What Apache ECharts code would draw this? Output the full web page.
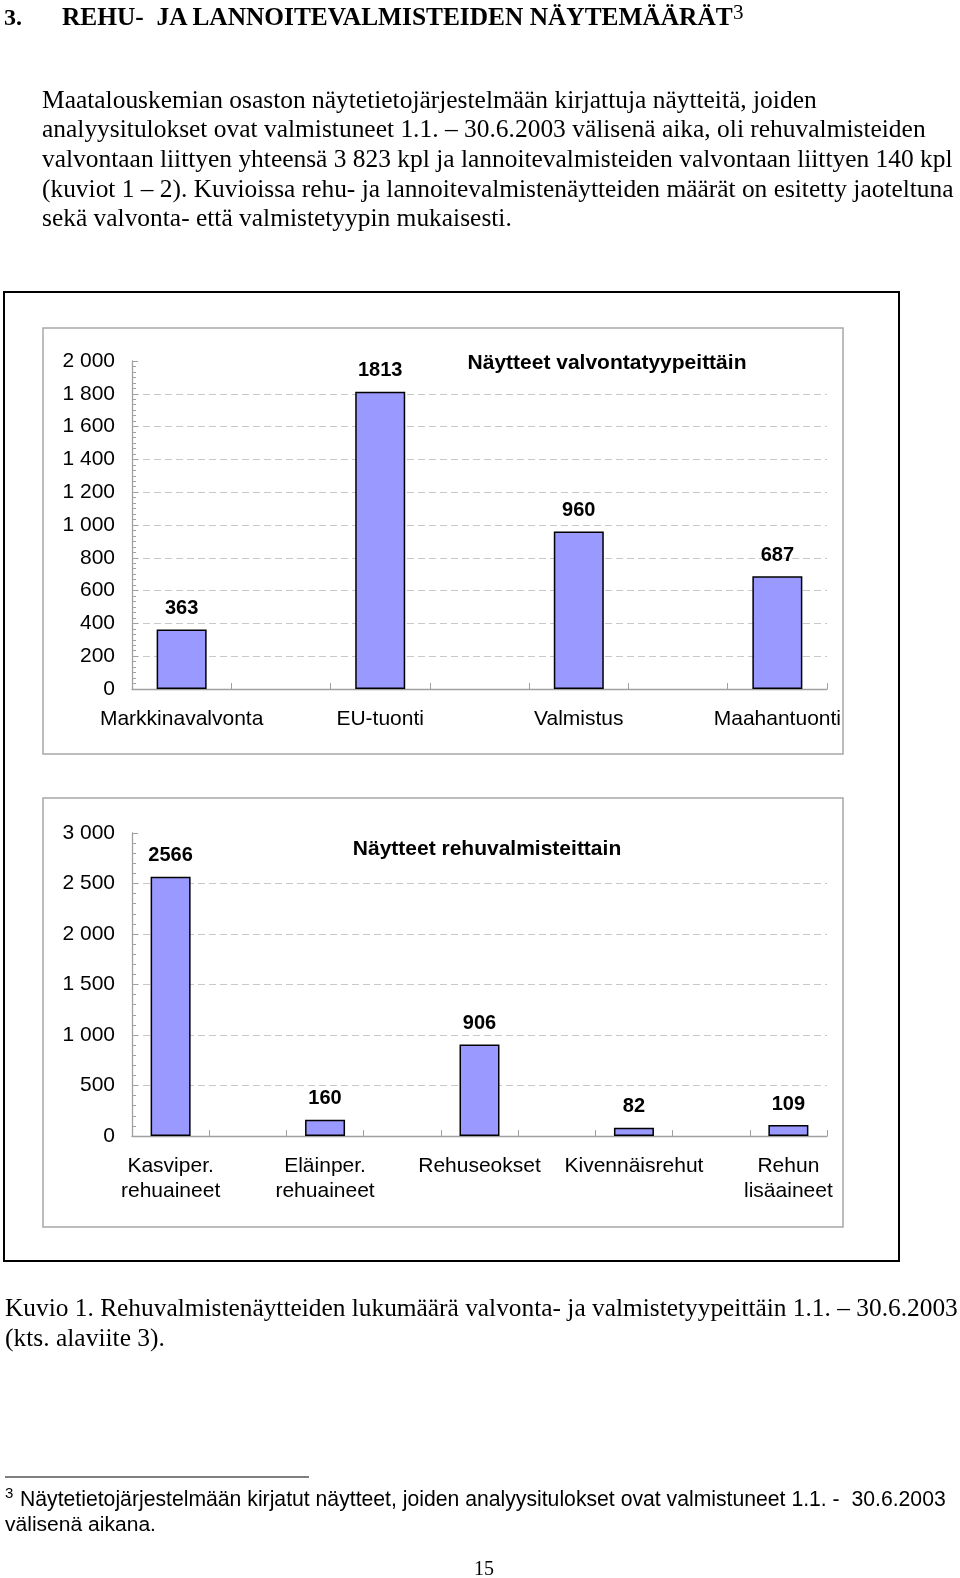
<!DOCTYPE html>
<html><head><meta charset="utf-8">
<script src="https://cdn.jsdelivr.net/npm/echarts@6/dist/echarts.min.js"></script>
<style>
html,body{margin:0;padding:0;background:#fff;}
#wrap{position:relative;width:960px;height:1578px;overflow:hidden;background:#fff;}
#chart{position:absolute;left:0;top:0;width:960px;height:1578px;}
#txt{position:absolute;left:0;top:0;width:960px;height:1578px;pointer-events:none;}
#txt text{white-space:pre;}
</style></head><body>
<div id="wrap"><div id="chart"></div>
<svg id="txt" width="960" height="1578" xmlns="http://www.w3.org/2000/svg"></svg></div>
<script>
// ---- data ----
const categories1 = ['Markkinavalvonta', 'EU-tuonti', 'Valmistus', 'Maahantuonti'];
const values1 = [363, 1813, 960, 687];
const yTicks1 = {min: 0, max: 2000, interval: 200};
const title1 = 'Näytteet valvontatyypeittäin';

const categories2 = ['Kasviper.\nrehuaineet', 'Eläinper.\nrehuaineet', 'Rehuseokset', 'Kivennäisrehut', 'Rehun\nlisäaineet'];
const values2 = [2566, 160, 906, 82, 109];
const yTicks2 = {min: 0, max: 3000, interval: 500};
const title2 = 'Näytteet rehuvalmisteittain';

// ---- text of the page ----
const ns = 'http://www.w3.org/2000/svg';
const svg = document.getElementById('txt');
function addText(s, x, y, o) {
  const el = document.createElementNS(ns, 'text');
  el.setAttribute('x', x); el.setAttribute('y', y);
  el.setAttribute('font-family', o.family);
  el.setAttribute('font-size', o.size);
  if (o.weight) el.setAttribute('font-weight', o.weight);
  if (o.anchor) el.setAttribute('text-anchor', o.anchor);
  el.setAttribute('fill', '#000');
  el.textContent = s;
  svg.appendChild(el);
  if (o.w) {
    const len = el.getComputedTextLength();
    el.setAttribute('font-size', (o.size * o.w / len).toFixed(2));
  }
  return el;
}
const SERIF = "'Liberation Serif','Times New Roman',serif";
const SANS = "'Liberation Sans',Arial,sans-serif";

addText('3.', 4, 25, {family: SERIF, size: 25, weight: 'bold', w: 18});
addText('REHU-  JA LANNOITEVALMISTEIDEN NÄYTEMÄÄRÄT', 62, 25, {family: SERIF, size: 25, weight: 'bold', w: 671});
addText('3', 733, 19, {family: SERIF, size: 21});

const para = [
  ['Maatalouskemian osaston näytetietojärjestelmään kirjattuja näytteitä, joiden', 775],
  ['analyysitulokset ovat valmistuneet 1.1. – 30.6.2003 välisenä aika, oli rehuvalmisteiden', 884],
  ['valvontaan liittyen yhteensä 3 823 kpl ja lannoitevalmisteiden valvontaan liittyen 140 kpl', 911],
  ['(kuviot 1 – 2). Kuvioissa rehu- ja lannoitevalmistenäytteiden määrät on esitetty jaoteltuna', 912],
  ['sekä valvonta- että valmistetyypin mukaisesti.', 470]
];
para.forEach((p, i) => addText(p[0], 42, 107.5 + 29.7 * i, {family: SERIF, size: 25, w: p[1]}));

addText('Kuvio 1. Rehuvalmistenäytteiden lukumäärä valvonta- ja valmistetyypeittäin 1.1. – 30.6.2003', 5, 1315.5, {family: SERIF, size: 25, w: 953});
addText('(kts. alaviite 3).', 5, 1345.5, {family: SERIF, size: 25, w: 160});

const rule = document.createElementNS(ns, 'line');
rule.setAttribute('x1', 5); rule.setAttribute('x2', 309);
rule.setAttribute('y1', 1477); rule.setAttribute('y2', 1477);
rule.setAttribute('stroke', '#000'); rule.setAttribute('stroke-width', 1.2);
svg.appendChild(rule);

addText('3', 5, 1498, {family: SANS, size: 15});
addText('Näytetietojärjestelmään kirjatut näytteet, joiden analyysitulokset ovat valmistuneet 1.1. -  30.6.2003', 20, 1506, {family: SANS, size: 20, w: 926});
addText('välisenä aikana.', 5, 1531, {family: SANS, size: 20, w: 151});
addText('15', 484, 1575, {family: SERIF, size: 20, anchor: 'middle'});

// ---- chart ----
function slots(cats, vals) {
  const c = [], v = [];
  cats.forEach((k, i) => {
    if (i > 0) { c.push(''); v.push(null); }
    c.push(k); v.push(vals[i]);
  });
  return {c, v};
}
const s1 = slots(categories1, values1);
const s2 = slots(categories2, values2);
const fmt = v => String(v).replace(/\B(?=(\d{3})+(?!\d))/g, ' ');
const AX = '#a0a0a0';

function xAxis(gi, data) {
  return {
    gridIndex: gi, type: 'category', data: data, boundaryGap: true,
    axisLine: {show: true, lineStyle: {color: AX, width: 1.3}},
    axisTick: {show: true, inside: true, length: 6, interval: 0, lineStyle: {color: AX}},
    axisLabel: {interval: 0, color: '#000', fontFamily: 'Liberation Sans', fontSize: 21, margin: 18, lineHeight: 25},
    splitLine: {show: false}
  };
}
function yAxis(gi, t, minor) {
  return {
    gridIndex: gi, type: 'value', min: t.min, max: t.max, interval: t.interval,
    axisLine: {show: true, lineStyle: {color: AX, width: 1.3}},
    axisTick: {show: true, inside: true, length: 6, lineStyle: {color: AX}},
    minorTick: {show: true, splitNumber: minor, length: 4, lineStyle: {color: AX}},
    splitLine: {show: true, showMaxLine: false, showMinLine: false, lineStyle: {type: [7, 4], color: '#c8c8c8', width: 1}},
    axisLabel: {color: '#000', fontFamily: 'Liberation Sans', fontSize: 21, margin: 17, formatter: fmt}
  };
}
function bar(gi, data, w) {
  return {
    type: 'bar', xAxisIndex: gi, yAxisIndex: gi, data: data, barWidth: w, silent: true,
    itemStyle: {color: '#9999ff', borderColor: '#000', borderWidth: 1.5},
    label: {show: true, position: 'top', distance: 11, fontFamily: 'Liberation Sans', fontWeight: 'bold', fontSize: 20, color: '#000'}
  };
}

const chart = echarts.init(document.getElementById('chart'), null, {renderer: 'canvas'});
chart.setOption({
  animation: false,
  backgroundColor: 'transparent',
  grid: [
    {left: 132, top: 361, width: 695, height: 328},
    {left: 132, top: 833, width: 695, height: 303}
  ],
  xAxis: [xAxis(0, s1.c), xAxis(1, s2.c)],
  yAxis: [yAxis(0, yTicks1, 6), yAxis(1, yTicks2, 5)],
  series: [bar(0, s1.v, 50), bar(1, s2.v, 40)],
  graphic: [
    {type: 'rect', shape: {x: 4, y: 292, width: 895, height: 969}, style: {fill: 'none', stroke: '#000', lineWidth: 2}},
    {type: 'rect', shape: {x: 43, y: 328, width: 800, height: 426}, style: {fill: 'none', stroke: '#a8a8a8', lineWidth: 1.5}},
    {type: 'rect', shape: {x: 43, y: 798, width: 800, height: 429}, style: {fill: 'none', stroke: '#a8a8a8', lineWidth: 1.5}},
    {type: 'text', x: 607, y: 363, style: {text: title1, align: 'center', verticalAlign: 'middle', font: 'bold 21px "Liberation Sans"', fill: '#000'}},
    {type: 'text', x: 487, y: 849, style: {text: title2, align: 'center', verticalAlign: 'middle', font: 'bold 21px "Liberation Sans"', fill: '#000'}}
  ]
});
</script>
</body></html>
